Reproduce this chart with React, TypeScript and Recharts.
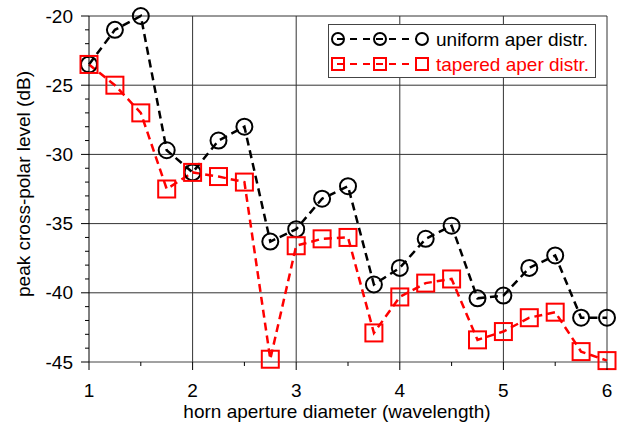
import React from 'react';
import { LineChart, Line, XAxis, YAxis, ReferenceLine, Legend } from 'recharts';

const apertureDiameters = [1, 1.25, 1.5, 1.75, 2, 2.25, 2.5, 2.75, 3, 3.25, 3.5, 3.75, 4, 4.25, 4.5, 4.75, 5, 5.25, 5.5, 5.75, 6];
const uniformAper = [-23.5, -21.0, -20.0, -29.7, -31.3, -29.0, -28.0, -36.3, -35.4, -33.2, -32.3, -39.4, -38.2, -36.1, -35.15, -40.4, -40.2, -38.2, -37.3, -41.8, -41.8];
const taperedAper = [-23.5, -25.0, -27.0, -32.5, -31.3, -31.6, -32.0, -44.8, -36.6, -36.1, -36.0, -42.9, -40.3, -39.3, -39.0, -43.4, -42.8, -41.8, -41.4, -44.25, -44.9];

const xTicks = [1, 1.5, 2, 2.5, 3, 3.5, 4, 4.5, 5, 5.5, 6];
const xGrid = [2, 3, 4, 5, 6];
const yTicks = Array.from({ length: 26 }, (_, i) => -45 + i);
const yGrid = [-40, -35, -30, -25, -20];

const data = apertureDiameters.map((x, i) => ({ x, uniform: uniformAper[i], tapered: taperedAper[i] }));

const FONT = '"Liberation Sans", Arial, sans-serif';
const FS = 19;

const XTick = (props: any) => {
  const { x, y, payload } = props;
  const major = Number.isInteger(payload.value);
  return (
    <g>
      <line x1={x} x2={x} y1={y} y2={y + (major ? 8 : 4)} stroke="#000" strokeWidth={1} />
      {major && (
        <text x={x} y={y + 28} textAnchor="middle" dominantBaseline="central" fontSize={FS} fontFamily={FONT} fill="#000">
          {payload.value}
        </text>
      )}
    </g>
  );
};

const YTick = (props: any) => {
  const { x, y, payload } = props;
  const major = payload.value % 5 === 0;
  return (
    <g>
      <line x1={x} x2={x - (major ? 8 : 4)} y1={y} y2={y} stroke="#000" strokeWidth={1} />
      {major && (
        <text x={x - 16} y={y} textAnchor="end" dominantBaseline="central" fontSize={FS} fontFamily={FONT} fill="#000">
          {payload.value}
        </text>
      )}
    </g>
  );
};

const CircleDot = (props: any) => {
  const { cx, cy, index } = props;
  if (cx == null || cy == null) return <g key={`c${index}`} />;
  return <circle key={`c${index}`} cx={cx} cy={cy} r={8} fill="none" stroke="#000" strokeWidth={2} />;
};

const SquareDot = (props: any) => {
  const { cx, cy, index } = props;
  if (cx == null || cy == null) return <g key={`s${index}`} />;
  return <rect key={`s${index}`} x={cx - 8.5} y={cy - 8.5} width={17} height={17} fill="none" stroke="#ff0000" strokeWidth={2} />;
};

const legendItems = [
  { label: 'uniform aper distr.', color: '#000', shape: 'circle' },
  { label: 'tapered aper distr.', color: '#ff0000', shape: 'square' },
];

const LegendContent = () => (
  <div
    style={{
      width: 268,
      height: 54,
      border: '1px solid #444',
      background: '#fff',
      boxSizing: 'border-box',
      position: 'relative',
      fontFamily: FONT,
      fontSize: FS,
    }}
  >
    {legendItems.map((it, i) => {
      const cy = 14 + i * 25;
      return (
        <div key={it.label} style={{ position: 'absolute', left: 0, top: cy - 14, height: 28, width: 266 }}>
          <svg width={100} height={28} style={{ position: 'absolute', left: 2, top: 0 }}>
            <line x1={6} x2={92} y1={14} y2={14} stroke={it.color} strokeWidth={2} strokeDasharray="7 6" />
            {[7, 49, 91].map((mx) =>
              it.shape === 'circle' ? (
                <circle key={mx} cx={mx} cy={14} r={6} fill={mx === 91 ? '#fff' : 'none'} stroke={it.color} strokeWidth={2} />
              ) : (
                <rect key={mx} x={mx - 6} y={8} width={12} height={12} fill={mx === 91 ? '#fff' : 'none'} stroke={it.color} strokeWidth={2} />
              )
            )}
          </svg>
          <span style={{ position: 'absolute', left: 107, top: 14, transform: 'translateY(-50%)', color: it.color, whiteSpace: 'nowrap', lineHeight: 1 }}>
            {it.label}
          </span>
        </div>
      );
    })}
  </div>
);

export default function App() {
  return (
    <div style={{ position: 'absolute', left: 0, top: 0, width: 626, height: 428, background: '#fff' }}>
      <LineChart width={626} height={428} data={data} margin={{ top: 16, right: 19, bottom: 36, left: 29 }}>
        {xGrid.map((g) => (
          <ReferenceLine key={`vx${g}`} x={g} stroke="#333" strokeWidth={1} />
        ))}
        {yGrid.map((g) => (
          <ReferenceLine key={`hy${g}`} y={g} stroke="#333" strokeWidth={1} />
        ))}
        <XAxis
          dataKey="x"
          type="number"
          domain={[1, 6]}
          ticks={xTicks}
          interval={0}
          tickSize={0}
          tickMargin={0}
          height={30}
          axisLine={{ stroke: '#444', strokeWidth: 1 }}
          tick={<XTick />}
          label={{
            content: (p: any) => {
              const vb = p.viewBox;
              return (
                <text x={vb.x + vb.width / 2 - 11} y={vb.y + 49} textAnchor="middle" dominantBaseline="central" fontSize={FS} fontFamily={FONT} fill="#000">
                  horn aperture diameter (wavelength)
                </text>
              );
            },
          }}
        />
        <YAxis
          type="number"
          domain={[-45, -20]}
          ticks={yTicks}
          interval={0}
          tickSize={0}
          tickMargin={0}
          width={60}
          axisLine={{ stroke: '#000', strokeWidth: 1 }}
          tick={<YTick />}
          label={{
            content: () => {
              const cx = 23;
              const cy = 184;
              return (
                <text x={cx} y={cy} transform={`rotate(-90 ${cx} ${cy})`} textAnchor="middle" dominantBaseline="central" fontSize={FS} fontFamily={FONT} fill="#000">
                  peak cross-polar level (dB)
                </text>
              );
            },
          }}
        />
        <Legend
          layout="horizontal"
          verticalAlign="middle"
          align="center"
          wrapperStyle={{ position: 'absolute', top: 24, left: 328, width: 268, height: 54 }}
          content={<LegendContent />}
        />
        <Line
          dataKey="uniform"
          stroke="#000"
          strokeWidth={2.5}
          strokeDasharray="8 5"
          dot={<CircleDot />}
          activeDot={false}
          isAnimationActive={false}
        />
        <Line
          dataKey="tapered"
          stroke="#ff0000"
          strokeWidth={2.5}
          strokeDasharray="8 5"
          dot={<SquareDot />}
          activeDot={false}
          isAnimationActive={false}
        />
      </LineChart>
    </div>
  );
}
